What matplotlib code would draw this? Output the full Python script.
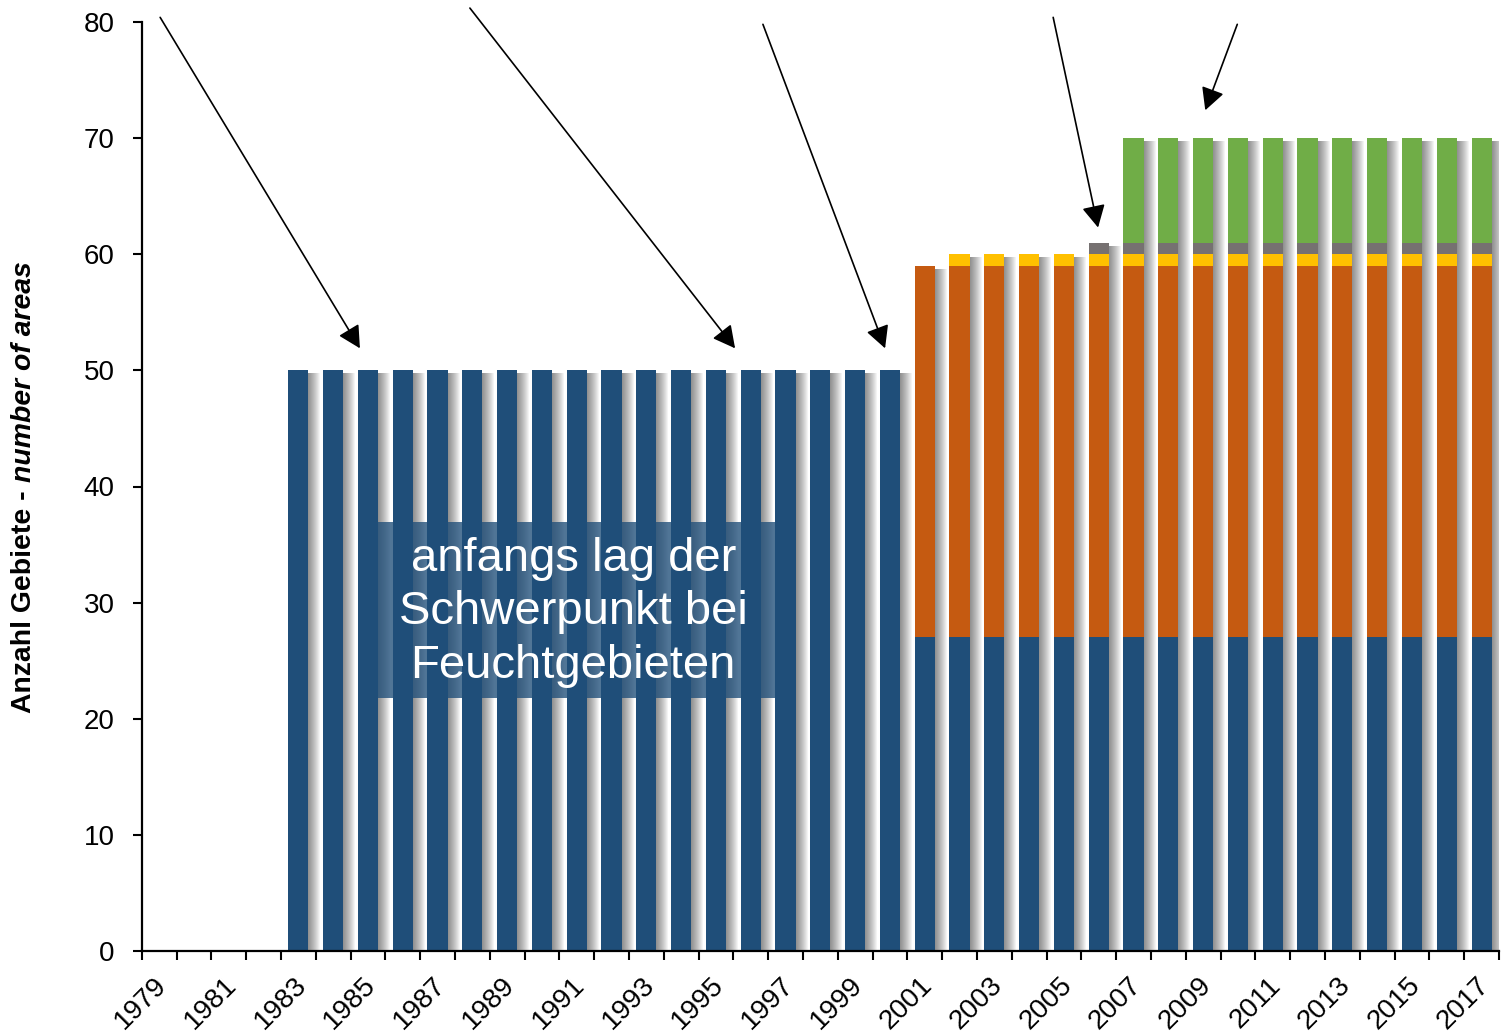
import numpy as np
import matplotlib
matplotlib.use("Agg")
from matplotlib import pyplot as plt
from matplotlib.patches import Rectangle
from matplotlib.transforms import ScaledTranslation

plt.rcParams['font.family'] = ['Liberation Sans', 'DejaVu Sans']

# number of protected areas per year, by habitat type
years = np.arange(1979, 2018)
feuchtgebiete = [0, 0, 0, 0,
                 50, 50, 50, 50, 50, 50, 50, 50, 50, 50, 50, 50, 50, 50, 50, 50, 50, 50,
                 27, 27, 27, 27, 27, 27, 27, 27, 27, 27, 27, 27, 27, 27, 27, 27, 27]
orange = [0, 0, 0, 0, 0, 0, 0, 0, 0, 0, 0, 0, 0, 0, 0, 0, 0, 0, 0, 0, 0, 0,
          32, 32, 32, 32, 32, 32, 32, 32, 32, 32, 32, 32, 32, 32, 32, 32, 32]
gelb = [0, 0, 0, 0, 0, 0, 0, 0, 0, 0, 0, 0, 0, 0, 0, 0, 0, 0, 0, 0, 0, 0, 0,
        1, 1, 1, 1, 1, 1, 1, 1, 1, 1, 1, 1, 1, 1, 1, 1]
grau = [0, 0, 0, 0, 0, 0, 0, 0, 0, 0, 0, 0, 0, 0, 0, 0, 0, 0, 0, 0, 0, 0, 0, 0, 0, 0, 0,
        1, 1, 1, 1, 1, 1, 1, 1, 1, 1, 1, 1]
gruen = [0, 0, 0, 0, 0, 0, 0, 0, 0, 0, 0, 0, 0, 0, 0, 0, 0, 0, 0, 0, 0, 0, 0, 0, 0, 0, 0, 0,
         9, 9, 9, 9, 9, 9, 9, 9, 9, 9, 9]

series = [feuchtgebiete, orange, gelb, grau, gruen]
colors = ['#1F4E79', '#C55A11', '#FFC000', '#767171', '#70AD47']

# arrows: (start x, start y) -> (tip x, tip y) in data units
arrows = [((1979.03, 80.4), (1984.77, 51.9)),
          ((1987.93, 81.2), (1995.55, 51.9)),
          ((1996.35, 79.8), (1999.86, 51.9)),
          ((2004.69, 80.4), (2005.98, 62.3)),
          ((2009.98, 79.8), (2009.06, 72.4))]

W, H = 1502, 1035
fig = plt.figure(figsize=(W / 100, H / 100), dpi=100)
ax = fig.add_axes([141.7 / W, (H - 951) / H, (1499 - 141.7) / W, (951 - 22) / H])

bar_w = 0.58
px = 1 / 34.8  # one pixel in x data units
py = 1 / 11.61

# soft drop shadow to the right of each bar
totals = np.sum(np.array(series), axis=0)
for k in range(1, 13):
    ax.bar(years + k * px, np.maximum(totals - 3 * py, 0), bar_w, bottom=0,
           color='black', alpha=0.045, linewidth=0, zorder=1)

bottom = np.zeros(len(years))
for vals, c in zip(series, colors):
    ax.bar(years, vals, bar_w, bottom=bottom, color=c, linewidth=0, zorder=2)
    bottom += np.array(vals)

ax.set_xlim(1978.5, 2017.5)
ax.set_ylim(0, 80)

for s in ['top', 'right']:
    ax.spines[s].set_visible(False)
for s in ['left', 'bottom']:
    ax.spines[s].set_linewidth(1.6)

ax.set_yticks(np.arange(0, 81, 10))
ax.tick_params(axis='y', direction='out', length=6.5, width=1.5, pad=13, labelsize=20)

ax.set_xticks(np.arange(1978.5, 2018, 1))
ax.set_xticklabels([])
ax.tick_params(axis='x', which='major', direction='out', length=6.5, width=1.5)
ax.set_xticks(years[::2], minor=True)
ax.set_xticklabels([str(y) for y in years[::2]], minor=True, rotation=45, ha='right',
                   va='center', rotation_mode='anchor', fontsize=20)
ax.tick_params(axis='x', which='minor', length=0, pad=22)
shift = ScaledTranslation(4 / 100, 0, fig.dpi_scale_trans)
for lab in ax.get_xticklabels(minor=True):
    lab.set_transform(lab.get_transform() + shift)

# text panel over the early bars
ax.add_patch(Rectangle((1985.26, 21.8), 11.44, 15.15, facecolor='#1F4E79', alpha=0.78,
                       linewidth=0, zorder=5))
ax.text(1990.9, 29.15, "anfangs lag der\nSchwerpunkt bei\nFeuchtgebieten",
        ha='center', va='center', color='white', fontsize=34, linespacing=1.29, zorder=6)

for start, tip in arrows:
    ax.annotate('', xy=tip, xytext=start, annotation_clip=False,
                arrowprops=dict(arrowstyle='-|>,head_length=0.8,head_width=0.42',
                                mutation_scale=17, color='black', lw=1.2,
                                shrinkA=0, shrinkB=0))

# y label: bold German part, bold italic English part
t1 = fig.text(24 / W, (H - 713) / H, "Anzahl Gebiete - ", rotation=90, ha='center',
              va='bottom', fontsize=20.4, fontweight='bold')
fig.canvas.draw()
bb = t1.get_window_extent()
fig.text(24 / W, bb.y1 / H, "number of areas", rotation=90, ha='center', va='bottom',
         fontsize=20.4, fontweight='bold', fontstyle='italic')

fig.savefig('out.png', dpi=100)
